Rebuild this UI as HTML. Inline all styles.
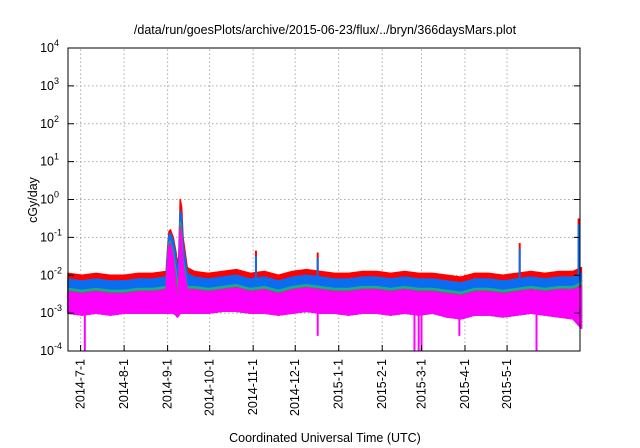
<!DOCTYPE html>
<html><head><meta charset="utf-8"><style>
body{margin:0;background:#fff;}
svg{display:block;font-family:"Liberation Sans",sans-serif;}
</style></head><body>
<svg id="chart" width="640" height="448">
<text x="325" y="34" font-size="12.5" text-anchor="middle">/data/run/goesPlots/archive/2015-06-23/flux/../bryn/366daysMars.plot</text>
<text transform="translate(37,200) rotate(-90)" font-size="12.5" text-anchor="middle">cGy/day</text>
<text x="325" y="442" font-size="12.5" text-anchor="middle">Coordinated Universal Time (UTC)</text>
<g id="grid"></g><g id="series"></g><g id="axes"></g>
<rect x="68" y="48" width="512" height="303" fill="none" stroke="#000" stroke-width="1"/>
</svg>
<script>
const days=[0,10,20,30,40,50,60,70,71,72,73,75,77,78,79,80,81,82,85,90,100,110,120,130,140,150,160,170,180,190,200,210,220,230,240,250,260,270,280,290,300,310,320,330,340,350,360,366];
const redTop=[-1.95,-2.0,-1.95,-2.0,-2.0,-1.95,-1.95,-1.9,-1.3,-0.85,-0.8,-1.0,-1.4,-1.7,-1.5,0.0,-0.2,-1.0,-1.8,-1.9,-1.95,-1.9,-1.85,-1.95,-1.9,-2.0,-1.9,-1.85,-1.9,-1.95,-1.95,-1.9,-1.9,-1.95,-1.9,-1.95,-1.95,-2.0,-2.05,-1.95,-1.95,-2.0,-1.95,-1.9,-1.95,-1.9,-1.9,-1.8];
const blueTop=[-2.1,-2.15,-2.1,-2.15,-2.15,-2.1,-2.1,-2.05,-1.4,-0.95,-0.9,-1.1,-1.5,-1.85,-1.65,-0.3,-0.5,-1.2,-1.95,-2.05,-2.1,-2.05,-2.0,-2.1,-2.05,-2.15,-2.05,-2.0,-2.05,-2.1,-2.1,-2.05,-2.05,-2.1,-2.05,-2.1,-2.1,-2.15,-2.2,-2.1,-2.1,-2.15,-2.1,-2.05,-2.1,-2.05,-2.05,-1.95];
const greenTop=[-2.35,-2.4,-2.35,-2.4,-2.4,-2.35,-2.35,-2.3,-1.6,-1.15,-1.1,-1.4,-1.9,-2.3,-2.0,-0.6,-0.9,-1.6,-2.3,-2.3,-2.35,-2.3,-2.25,-2.35,-2.3,-2.4,-2.3,-2.25,-2.3,-2.35,-2.35,-2.3,-2.3,-2.35,-2.3,-2.35,-2.35,-2.4,-2.45,-2.35,-2.35,-2.4,-2.35,-2.3,-2.35,-2.3,-2.3,-2.2];
const brownTop=[-2.42,-2.47,-2.42,-2.47,-2.47,-2.42,-2.42,-2.37,-1.65,-1.2,-1.15,-1.5,-2.1,-2.6,-2.15,-0.7,-1.0,-1.7,-2.37,-2.37,-2.42,-2.37,-2.32,-2.42,-2.37,-2.47,-2.37,-2.32,-2.37,-2.42,-2.42,-2.37,-2.37,-2.42,-2.37,-2.42,-2.42,-2.47,-2.52,-2.42,-2.42,-2.47,-2.42,-2.37,-2.42,-2.37,-2.37,-2.27];
const magTop=[-2.45,-2.5,-2.45,-2.5,-2.5,-2.45,-2.45,-2.4,-1.7,-1.25,-1.2,-1.6,-2.4,-2.9,-2.3,-0.8,-1.1,-1.8,-2.4,-2.4,-2.45,-2.4,-2.35,-2.45,-2.4,-2.5,-2.4,-2.35,-2.4,-2.45,-2.45,-2.4,-2.4,-2.45,-2.4,-2.45,-2.45,-2.5,-2.55,-2.45,-2.45,-2.5,-2.45,-2.4,-2.45,-2.4,-2.4,-2.3];
const magBot=[-3.0,-3.05,-3.0,-3.05,-3.0,-3.0,-3.0,-3.0,-3.0,-3.0,-3.0,-3.0,-3.05,-3.1,-3.05,-3.0,-3.0,-3.0,-3.0,-3.0,-3.0,-2.95,-2.95,-3.0,-3.0,-3.05,-3.0,-2.95,-3.0,-3.0,-3.05,-3.0,-3.0,-3.05,-3.0,-3.05,-3.0,-3.1,-3.15,-3.05,-3.05,-3.1,-3.05,-3.0,-3.05,-3.1,-3.15,-3.4];
const spikeDays=[134,178,322,364];
const spikeVals=[-1.35,-1.4,-1.15,-0.5];
const dipDays=[12,178,247,250,252,279,334];
const dipVals=[-4,-3.6,-4,-4,-4,-3.6,-4];
const monthLabels=["2014-7-1","2014-8-1","2014-9-1","2014-10-1","2014-11-1","2014-12-1","2015-1-1","2015-2-1","2015-3-1","2015-4-1","2015-5-1"];
const monthDays=[9,40,71,101,132,162,193,224,252,283,313];
const yExps=[-4,-3,-2,-1,0,1,2,3,4];

const X0=68,X1=580,Y0=351,Y1=48,DMAX=365;
const xs=d=>X0+(X1-X0)*d/DMAX;
const ys=v=>Y0-(Y0-Y1)*(v+4)/8;
const NS="http://www.w3.org/2000/svg";
function mk(tag,attrs,parent){const e=document.createElementNS(NS,tag);for(const k in attrs)e.setAttribute(k,attrs[k]);parent.appendChild(e);return e;}
const grid=document.getElementById('grid'),ser=document.getElementById('series'),ax=document.getElementById('axes');

yExps.forEach(e=>{
  const y=ys(e);
  if(e>-4&&e<4){const g=mk('line',{x1:X0,x2:X1,y1:y,y2:y,stroke:'#aaa','stroke-dasharray':'1.5,2.5','stroke-width':1},grid);
  
  }
  const t=mk('line',{x1:X0,x2:X0+6,y1:y,y2:y,stroke:'#000'},ax);
  
  
  const t2=mk('line',{x1:X1,x2:X1-6,y1:y,y2:y,stroke:'#000'},ax);
  
  
  const lb=mk('text',{x:54,y:y+4,'font-size':12.5,'text-anchor':'end'},ax);
  lb.textContent='10';
  
  
  const sp=mk('text',{x:54,y:y-2,'font-size':9},ax);
  sp.textContent=String(e);
  
  
});
monthDays.forEach((d,i)=>{
  const x=xs(d);
  const g=mk('line',{x1:x,x2:x,y1:Y0,y2:Y1,stroke:'#aaa','stroke-dasharray':'1.5,2.5'},grid);
  
  
  const t=mk('line',{x1:x,x2:x,y1:Y0,y2:Y0-6,stroke:'#000'},ax);
  
  
  const lb=mk('text',{transform:`translate(${x+4},${Y0+8}) rotate(-90)`,'font-size':12.5,'text-anchor':'end'},ax);
  lb.textContent=monthLabels[i];
  
  
});
function band(top,bot,color,name){
  const p=days.map((d,i)=>xs(d)+','+ys(top[i]));
  const b=days.map((d,i)=>xs(d)+','+ys(bot[i])).reverse();
  const e=mk('polygon',{points:p.concat(b).join(' '),fill:color,stroke:color,'stroke-width':1.5,'stroke-linejoin':'round'},ser);
  
  
}
band(redTop,magBot,'#ff0000','series-red');
band(blueTop,magBot,'#0a6cf0','series-blue');
band(greenTop,magBot,'#10b090','series-green');
band(brownTop,magBot,'#a04a78','series-brown');
band(magTop,magBot,'#ff00ff','series-magenta');
spikeDays.forEach((d,i)=>{
  const x=xs(d);
  const s=mk('line',{x1:x,x2:x,y1:ys(spikeVals[i]),y2:ys(-2),stroke:'#ff0000','stroke-width':2},ser);
  
  
  const s2=mk('line',{x1:x,x2:x,y1:ys(spikeVals[i]-0.15),y2:ys(-2.1),stroke:'#0a6cf0','stroke-width':2},ser);
  
  
});
dipDays.forEach((d,i)=>{
  const x=xs(d);
  const s=mk('line',{x1:x,x2:x,y1:ys(-3),y2:ys(dipVals[i]),stroke:'#ff00ff','stroke-width':2},ser);
  
  
});
</script>
</body></html>
